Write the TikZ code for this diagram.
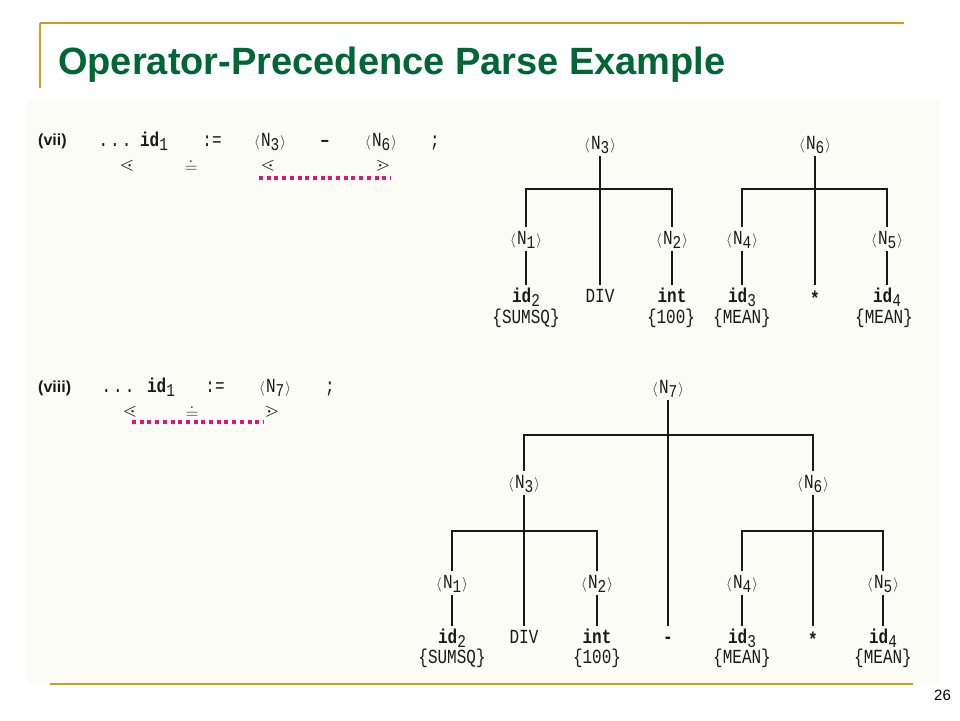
\documentclass[tikz,border=0pt]{standalone}
\usepackage{amssymb}
\usepackage{fontspec}
\setmainfont{Liberation Sans}
\newfontfamily\twfont[FakeStretch=0.8]{Liberation Mono}
\definecolor{titlegreen}{RGB}{0,102,51}
\definecolor{goldline}{RGB}{200,158,35}
\definecolor{pinkdot}{RGB}{225,20,110}
\definecolor{scanbg}{RGB}{252,252,246}
\definecolor{inkc}{RGB}{25,25,25}
\newcommand\lsub[1]{\raisebox{-4.5pt}{\fontsize{18}{18}\selectfont #1}}
\newcommand\abr[1]{{\fontsize{15}{15}\selectfont$#1$}}
\newcommand\ntk[1]{\abr{\langle}\hspace{1.5pt}N\lsub{#1}\hspace{1pt}\abr{\rangle}}
\begin{document}
\begin{tikzpicture}[x=1pt,y=-1pt,
  tw/.style={font=\twfont\fontsize{20}{24}\selectfont, text=inkc, inner xsep=0pt, inner ysep=3pt, text height=14pt, text depth=4pt, anchor=base},
  leaf/.style={font=\twfont\fontsize{20}{24}\selectfont, text=inkc, inner xsep=0pt, inner ysep=0pt, text height=17pt, text depth=0pt, anchor=base},
  brc/.style={font=\twfont\fontsize{20}{24}\selectfont, text=inkc, inner sep=0pt, text height=12pt, anchor=base},
  rowtw/.style={font=\twfont\fontsize{20}{24}\selectfont, text=inkc, inner sep=0pt, text depth=0pt, anchor=base},
  rowlab/.style={font=\fontsize{16}{18}\selectfont\bfseries, text=inkc, inner sep=0pt, anchor=base west},
  sym/.style={font=\fontsize{19}{19}\selectfont, text=inkc, inner sep=0pt, anchor=center},
  tl/.style={line width=2.4pt, draw=inkc},
  pinkline/.style={draw=pinkdot, line width=3.5pt, dash pattern=on 4pt off 3.7pt},
  gold/.style={draw=goldline}
]
\useasboundingbox (0,0) rectangle (960,720);
\fill[scanbg] (27,100) rectangle (940,683);

% frame lines and title
\coordinate (gtl) at (40,23);
\coordinate (gtr) at (904,23);
\coordinate (gbl) at (40,88);
\coordinate (bl) at (50,684);
\coordinate (br) at (913,684);
\draw[gold, line width=2.3pt] (gtr) -- (gtl);
\draw[gold, line width=2pt] (gtl) -- (gbl);
\draw[gold, line width=2.6pt] (bl) -- (br);
\node[anchor=base west, inner sep=0pt, text=titlegreen, font=\fontsize{38}{44}\selectfont\bfseries] (title) at (58,74) {Operator-Precedence Parse Example};
\node[anchor=base west, inner sep=0pt, font=\fontsize{15}{18}\selectfont] (pageno) at (934,700) {26};

% ---------- row (vii) ----------
\node[rowlab] (l7) at (38,145) {(vii)};
\node[rowtw] (r1dots) at (115,146) {.\hspace{2pt}.\hspace{2pt}.};
\node[rowtw] (r1id) at (154,146) {\textbf{id}\lsub{1}};
\node[rowtw] (r1as) at (212,146) {:=};
\node[rowtw] (r1n3) at (270,146) {\ntk{3}};
\node[rowtw] (r1min) at (325,146) {\textbf{–}};
\node[rowtw] (r1n6) at (381,146) {\ntk{6}};
\node[rowtw] (r1semi) at (435,146) {;};
\node[sym] (r1lt) at (127,166) {$\lessdot$};
\node[sym] (r1eq) at (191,166) {$\doteq$};
\node[sym] (r1lt2) at (268,166) {$\lessdot$};
\node[sym] (r1gt) at (383,166) {$\gtrdot$};
\coordinate (d1a) at (259,178);
\coordinate (d1b) at (391,178);
\draw[pinkline] (d1a) -- (d1b);

% ---------- top trees ----------
\node[tw] (a3) at (600,149) {\ntk{3}};
\node[tw] (a1) at (526,244) {\ntk{1}};
\node[tw] (a2) at (672,244) {\ntk{2}};
\node[leaf] (aid2) at (526,302) {\textbf{id}\lsub{2}};
\node[leaf] (adiv) at (600,302) {DIV};
\node[leaf] (aint) at (672,302) {\textbf{int}};
\node[brc] (asq) at (526,323) {\{SUMSQ\}};
\node[brc] (a100) at (671,323) {\{100\}};

\node[tw] (a6) at (815,149) {\ntk{6}};
\node[tw] (a4) at (742,244) {\ntk{4}};
\node[tw] (a5) at (887,244) {\ntk{5}};
\node[leaf] (aid3) at (742,302) {\textbf{id}\lsub{3}};
\node[leaf] (astar) at (815,302) {\raisebox{-3pt}{\textbf{*}}};
\node[leaf] (aid4) at (887,302) {\textbf{id}\lsub{4}};
\node[brc] (am1) at (742,323) {\{MEAN\}};
\node[brc] (am2) at (884,323) {\{MEAN\}};

\coordinate (abarL) at (600,189);
\coordinate (abarR) at (815,189);
\draw[tl] (a3.south) -- (adiv.north);
\draw[tl] (a1.north) |- (abarL) -| (a2.north);
\draw[tl] (a1.south) -- (aid2.north);
\draw[tl] (a2.south) -- (aint.north);
\draw[tl] (a6.south) -- (astar.north);
\draw[tl] (a4.north) |- (abarR) -| (a5.north);
\draw[tl] (a4.south) -- (aid3.north);
\draw[tl] (a5.south) -- (aid4.north);

% ---------- row (viii) ----------
\node[rowlab] (l8) at (38,392) {(viii)};
\node[rowtw] (r2dots) at (118,392) {.\hspace{2pt}.\hspace{2pt}.};
\node[rowtw] (r2id) at (161,392) {\textbf{id}\lsub{1}};
\node[rowtw] (r2as) at (215,392) {:=};
\node[rowtw] (r2n7) at (275,392) {\ntk{7}};
\node[rowtw] (r2semi) at (330,392) {;};
\node[sym] (r2lt) at (130,412) {$\lessdot$};
\node[sym] (r2eq) at (192,412) {$\doteq$};
\node[sym] (r2gt) at (272,412) {$\gtrdot$};
\coordinate (d2a) at (132,422);
\coordinate (d2b) at (263,422);
\draw[pinkline] (d2a) -- (d2b);

% ---------- bottom tree ----------
\node[tw] (b7) at (668,393) {\ntk{7}};
\node[tw] (b3) at (524,488) {\ntk{3}};
\node[tw] (b6) at (813,488) {\ntk{6}};
\node[tw] (b1) at (452,588) {\ntk{1}};
\node[tw] (b2) at (597,588) {\ntk{2}};
\node[tw] (b4) at (742,588) {\ntk{4}};
\node[tw] (b5) at (883,588) {\ntk{5}};
\node[leaf] (bid2) at (452,643) {\textbf{id}\lsub{2}};
\node[leaf] (bdiv) at (524,643) {DIV};
\node[leaf] (bint) at (597,643) {\textbf{int}};
\node[leaf] (bmin) at (668,643) {\textbf{-}};
\node[leaf] (bid3) at (742,643) {\textbf{id}\lsub{3}};
\node[leaf] (bstar) at (813,643) {\raisebox{-3pt}{\textbf{*}}};
\node[leaf] (bid4) at (883,643) {\textbf{id}\lsub{4}};
\node[brc] (bsq) at (452,663) {\{SUMSQ\}};
\node[brc] (b100) at (597,663) {\{100\}};
\node[brc] (bm1) at (742,663) {\{MEAN\}};
\node[brc] (bm2) at (883,663) {\{MEAN\}};

\coordinate (bbar) at (668,435);
\coordinate (bbarL) at (524,531);
\coordinate (bbarR) at (813,531);
\draw[tl] (b7.south) -- (bmin.north);
\draw[tl] (b3.north) |- (bbar) -| (b6.north);
\draw[tl] (b3.south) -- (bdiv.north);
\draw[tl] (b1.north) |- (bbarL) -| (b2.north);
\draw[tl] (b1.south) -- (bid2.north);
\draw[tl] (b2.south) -- (bint.north);
\draw[tl] (b6.south) -- (bstar.north);
\draw[tl] (b4.north) |- (bbarR) -| (b5.north);
\draw[tl] (b4.south) -- (bid3.north);
\draw[tl] (b5.south) -- (bid4.north);
\end{tikzpicture}
\end{document}
